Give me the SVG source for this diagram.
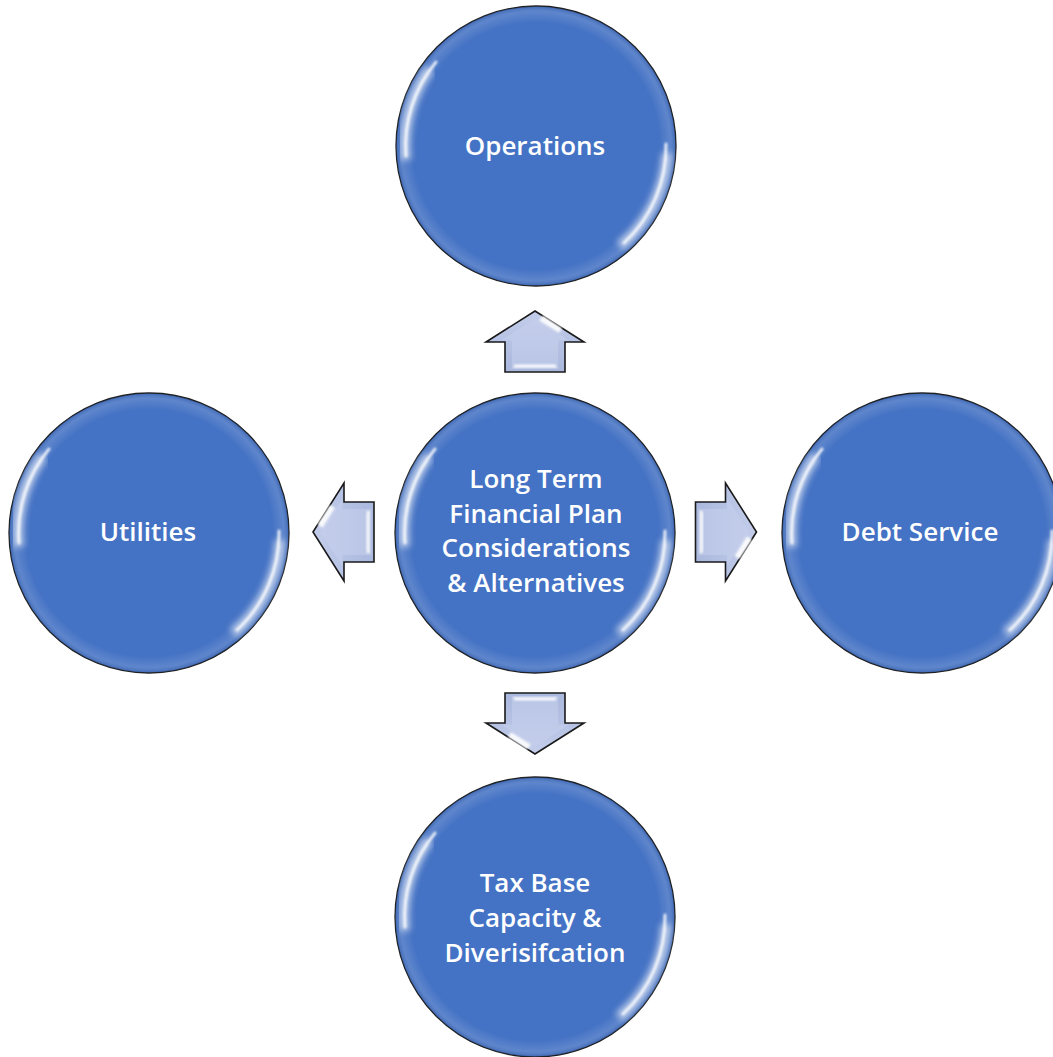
<svg xmlns="http://www.w3.org/2000/svg" xmlns:xlink="http://www.w3.org/1999/xlink" width="1053" height="1057" viewBox="0 0 1053 1057">
<style>
.node{fill:#4472C4;stroke:#1e1e1e;stroke-width:1.3}
.rim{fill:url(#rimGrad)}
.lbl{font-family:"Open Sans","Liberation Sans",sans-serif;font-size:26px;font-weight:600;fill:#ffffff;text-anchor:middle}
.arrow{fill:url(#arrowGrad);stroke:#1a1a1a;stroke-width:1.6;stroke-linejoin:miter}
</style>
<defs>
<radialGradient id="rimGrad" cx="0.5" cy="0.5" r="0.5">
<stop offset="0.88" stop-color="#ffffff" stop-opacity="0"/>
<stop offset="0.96" stop-color="#ffffff" stop-opacity="0.14"/>
<stop offset="1" stop-color="#1e3d7a" stop-opacity="0.25"/>
</radialGradient>
<linearGradient id="arrowGrad" x1="0" y1="0" x2="0" y2="1">
<stop offset="0" stop-color="#c3cdea"/>
<stop offset="1" stop-color="#aab8de"/>
</linearGradient>
<filter id="soft" x="-20%" y="-20%" width="140%" height="140%"><feGaussianBlur stdDeviation="3"/></filter>
<filter id="sharp" x="-20%" y="-20%" width="140%" height="140%"><feGaussianBlur stdDeviation="1"/></filter>
<g id="gloss">
<circle r="140" class="rim"/>
<path d="M-106,-77 A131,131 0 0 0 -130,14" fill="none" stroke="#ffffff" stroke-opacity="0.55" stroke-width="11" filter="url(#soft)"/>
<path d="M-100,-84 A131,131 0 0 0 -130,10" fill="none" stroke="#ffffff" stroke-opacity="0.85" stroke-width="3" stroke-linecap="round" filter="url(#sharp)"/>
<path d="M131,7 A131,131 0 0 1 84,100" fill="none" stroke="#ffffff" stroke-opacity="0.55" stroke-width="11" filter="url(#soft)"/>
<path d="M130,-2 A131,131 0 0 1 88,97" fill="none" stroke="#ffffff" stroke-opacity="0.85" stroke-width="3" stroke-linecap="round" filter="url(#sharp)"/>
</g>
<g id="arrowUp">
<path class="arrow" d="M0,-30.5 L49,0.5 L30,0.5 L30,30.5 L-30,30.5 L-30,0.5 L-49,0.5 Z"/>
<path d="M0,-23 L34,-1 L23,-1 L23,24 L-23,24 L-23,-1 L-34,-1 Z" fill="#c7d0ec" opacity="0.55"/>
<path d="M4,-21 L8,-26 L27,-13.5 L24,-8.5 Z" fill="#ffffff" opacity="0.9" filter="url(#sharp)"/>
<path d="M-20,23 L20,23 L23,26.5 L-23,26.5 Z" fill="#ffffff" opacity="0.9" filter="url(#sharp)"/>
</g>
</defs>
<rect width="1053" height="1057" fill="#ffffff"/>
<g id="connectors">
<use xlink:href="#arrowUp" href="#arrowUp" transform="translate(535,341.5)"/>
<use xlink:href="#arrowUp" href="#arrowUp" transform="translate(726,532) rotate(90)"/>
<use xlink:href="#arrowUp" href="#arrowUp" transform="translate(535,723.5) rotate(180)"/>
<use xlink:href="#arrowUp" href="#arrowUp" transform="translate(343.5,532) rotate(-90)"/>
</g>
<g id="node-operations">
<circle class="node" cx="536" cy="146" r="140"/>
<use xlink:href="#gloss" href="#gloss" x="536" y="146"/>
<text class="lbl" x="535" y="155">Operations</text>
</g>
<g id="node-center">
<circle class="node" cx="535" cy="533" r="140"/>
<use xlink:href="#gloss" href="#gloss" x="535" y="533"/>
<text class="lbl" x="536" y="488">Long Term</text>
<text class="lbl" x="536" y="523">Financial Plan</text>
<text class="lbl" x="536" y="557">Considerations</text>
<text class="lbl" x="536" y="592">&amp; Alternatives</text>
</g>
<g id="node-utilities">
<circle class="node" cx="149" cy="533" r="140"/>
<use xlink:href="#gloss" href="#gloss" x="149" y="533"/>
<text class="lbl" x="148" y="541">Utilities</text>
</g>
<g id="node-debt">
<circle class="node" cx="922" cy="533" r="140"/>
<use xlink:href="#gloss" href="#gloss" x="922" y="533"/>
<text class="lbl" x="920" y="541">Debt Service</text>
</g>
<g id="node-taxbase">
<circle class="node" cx="535" cy="917" r="140"/>
<use xlink:href="#gloss" href="#gloss" x="535" y="917"/>
<text class="lbl" x="535" y="892">Tax Base</text>
<text class="lbl" x="535" y="927">Capacity &amp;</text>
<text class="lbl" x="535" y="962">Diverisifcation</text>
</g>
</svg>
